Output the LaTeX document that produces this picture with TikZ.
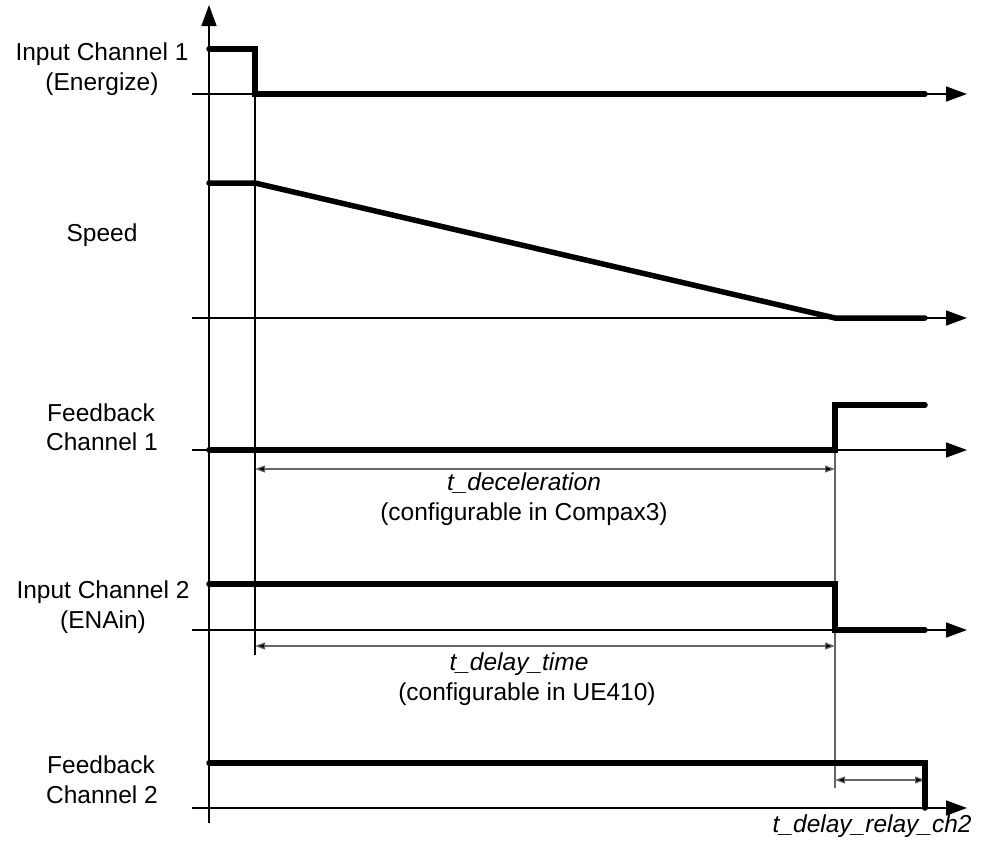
\documentclass[tikz,border=0pt]{standalone}
\usepackage{fontspec}
\setmainfont{Liberation Sans}
\usetikzlibrary{arrows.meta}
\begin{document}
\begin{tikzpicture}[x=0.5pt,y=-0.5pt,
  axis/.style={line width=0.75pt, black, -{Triangle[length=10.5pt,width=7.5pt]}},
  guide/.style={line width=0.6pt, black},
  guidegray/.style={line width=0.6pt, black!60},
  dim/.style={line width=0.6pt, draw=black!60, {Triangle[length=5pt,width=3.5pt,fill=black]}-{Triangle[length=5pt,width=3.5pt,fill=black]}},
  signal/.style={line width=2.75pt, line cap=round, line join=miter},
  lbl/.style={font=\fontsize{12.25}{15}\selectfont, anchor=base, inner sep=0pt},
  ilbl/.style={lbl, font=\fontsize{12.25}{15}\selectfont\itshape}]
\useasboundingbox (0,0) rectangle (987,852);
% coordinates
\coordinate (vb) at (209,823); \coordinate (vt) at (209,5);
\coordinate (r1s) at (192,94);  \coordinate (r1e) at (967,94);
\coordinate (r2s) at (192,318); \coordinate (r2e) at (967,318);
\coordinate (r3s) at (192,450); \coordinate (r3e) at (967,450);
\coordinate (r4s) at (192,630); \coordinate (r4e) at (967,630);
\coordinate (r5s) at (192,808); \coordinate (r5e) at (967,808);
\coordinate (g1t) at (255,94);  \coordinate (g1b) at (255,655);
\coordinate (g2t) at (835,450); \coordinate (g2b) at (835,788);
\coordinate (d1a) at (255,469); \coordinate (d1b) at (835,469);
\coordinate (d2a) at (255,646); \coordinate (d2b) at (835,646);
\coordinate (d3a) at (835,780); \coordinate (d3b) at (925,780);
% axes
\draw[axis] (vb) -- (vt);
\draw[axis] (r1s) -- (r1e);
\draw[axis] (r2s) -- (r2e);
\draw[axis] (r3s) -- (r3e);
\draw[axis] (r4s) -- (r4e);
\draw[axis] (r5s) -- (r5e);
% guides
\draw[guide] (g1t) -- (g1b);
\draw[guidegray] (g2t) -- (g2b);
% dimension arrows
\draw[dim] (d1a) -- (d1b);
\draw[dim] (d2a) -- (d2b);
\draw[dim] (d3a) -- (d3b);
% signals
\coordinate (s1a) at (209,49);
\draw[signal] (s1a) -- (255,49) -- (255,94) -- (925,94);
\coordinate (s2a) at (209,183);
\draw[signal] (s2a) -- (255,183) -- (835,318) -- (925,318);
\coordinate (s3a) at (209,450);
\draw[signal] (s3a) -- (835,450) -- (835,405) -- (925,405);
\coordinate (s4a) at (209,584);
\draw[signal] (s4a) -- (835,584) -- (835,630) -- (925,630);
\coordinate (s5a) at (209,763);
\draw[signal] (s5a) -- (925,763) -- (925,808);
% labels
\node[lbl] (l1a) at (102,60) {Input Channel 1};
\node[lbl] (l1b) at (102,90) {(Energize)};
\node[lbl] (l2) at (102,241) {Speed};
\node[lbl] (l3a) at (101,421) {Feedback};
\node[lbl] (l3b) at (102,450) {Channel 1};
\node[lbl] (l4a) at (103,598) {Input Channel 2};
\node[lbl] (l4b) at (103,628) {(ENAin)};
\node[lbl] (l5a) at (101,773) {Feedback};
\node[lbl] (l5b) at (102,803) {Channel 2};
\node[ilbl] (t1) at (524,490) {t\_deceleration};
\node[lbl] (t1b) at (524,520) {(configurable in Compax3)};
\node[ilbl] (t2) at (519,670) {t\_delay\_time};
\node[lbl] (t2b) at (527,700) {(configurable in UE410)};
\node[ilbl, anchor=base east] (t3) at (972,832) {t\_delay\_relay\_ch2};
\end{tikzpicture}
\end{document}
